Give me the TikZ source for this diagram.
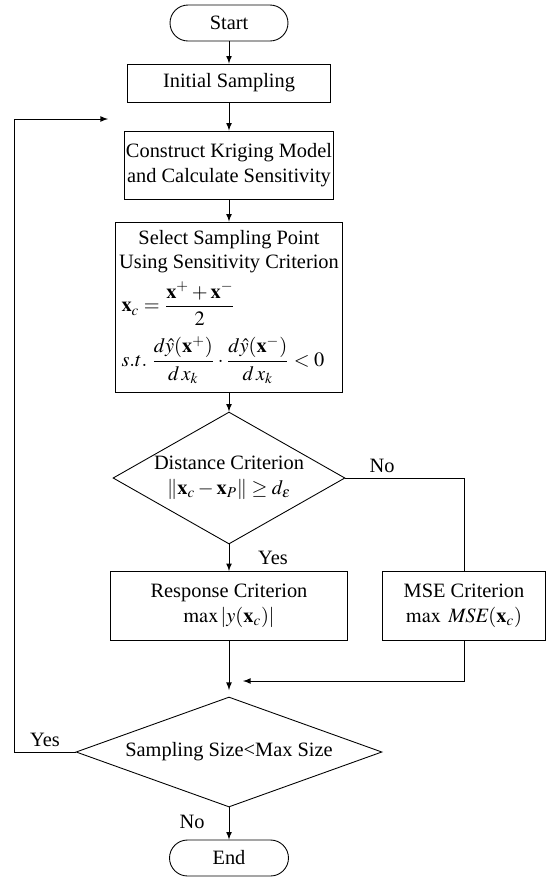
\documentclass[tikz,border=0pt]{standalone}
\usepackage{amsmath}
\usepackage{mathptmx}
\usepackage{fontspec}
\setmainfont{Liberation Serif}
\usetikzlibrary{shapes,arrows}

\begin{document}
\begin{tikzpicture}[x=0.02cm,y=-0.02cm,font=\fontsize{11.6}{14}\selectfont,line width=0.5pt]
\tikzstyle{terminal}=[draw,rectangle,rounded corners=0.36cm,minimum width=2.36cm,minimum height=0.72cm]
\tikzstyle{process}=[draw,rectangle,align=center,inner sep=1pt]
\tikzstyle{decision}=[draw,diamond,align=center,inner sep=-3pt]
\tikzstyle{arrow}=[->,>=latex]
\tikzstyle{tag}=[inner sep=1pt]
\useasboundingbox (0,0) rectangle (550,877);
\node [terminal] at (229,23) (start) {Start};
\node [process,minimum width=4.06cm,minimum height=0.76cm] at (229,83) (init) {Initial Sampling};
\node [process,minimum width=4.08cm,minimum height=1.36cm] at (229,165) (krig) {Construct Kriging Model\\and Calculate Sensitivity};
\node [process,minimum width=4.54cm,minimum height=3.4cm] at (229,307) (select) {Select Sampling Point\\Using Sensitivity Criterion\\[4pt]
  \makebox[4.3cm][l]{$\mathbf{x}_c=\dfrac{\mathbf{x}^{+}+\mathbf{x}^{-}}{2}$}\\[5pt]
  \makebox[4.3cm][l]{$s.t.\;\dfrac{d\hat{y}(\mathbf{x}^{+})}{d\,x_k}\cdot\dfrac{d\hat{y}(\mathbf{x}^{-})}{d\,x_k}<0$}};
\node [decision,aspect=1.76,minimum width=4.64cm,minimum height=2.64cm] at (229,478) (dist) {Distance Criterion\\$\left\|\mathbf{x}_c-\mathbf{x}_P\right\|\ge d_\varepsilon$};
\node [process,minimum width=4.74cm,minimum height=1.38cm] at (229,606) (resp) {Response Criterion\\$\max\left|y(\mathbf{x}_c)\right|$};
\node [process,minimum width=3.26cm,minimum height=1.38cm] at (464,606) (mse) {MSE Criterion\\$\max\ \mathit{MSE}(\mathbf{x}_c)$};
\node [decision,aspect=2.78,minimum width=6.12cm,minimum height=2.2cm] at (229,752) (size) {Sampling Size<Max Size};
\node [terminal,minimum width=2.38cm] at (229,858) (end) {End};
\coordinate (join) at (229,690);
\coordinate (msejoin) at (464,681);
\coordinate (msetip) at (243,681);
\coordinate (back) at (14,752);
\coordinate (backtip) at (108,119);
% main line
\draw [arrow] (start) -- (init);
\draw [arrow] (init) -- (krig);
\draw [arrow] (krig) -- (select);
\draw [arrow] (select) -- (dist);
\draw [arrow] (dist) -- (resp);
\draw [arrow] (resp) -- (join);
\draw [arrow] (size) -- (end);
% side branch and loop
\draw (dist.east) -| (mse.north);
\draw [arrow] (mse.south) -- (msejoin) -- (msetip);
\draw [arrow] (size.west) -- (back) |- (backtip);
\node [tag] at (382,466) (no1) {No};
\node [tag] at (273,558) (yes1) {Yes};
\node [tag] at (45,740) (yes2) {Yes};
\node [tag] at (192,822) (no2) {No};
\end{tikzpicture}
\end{document}
